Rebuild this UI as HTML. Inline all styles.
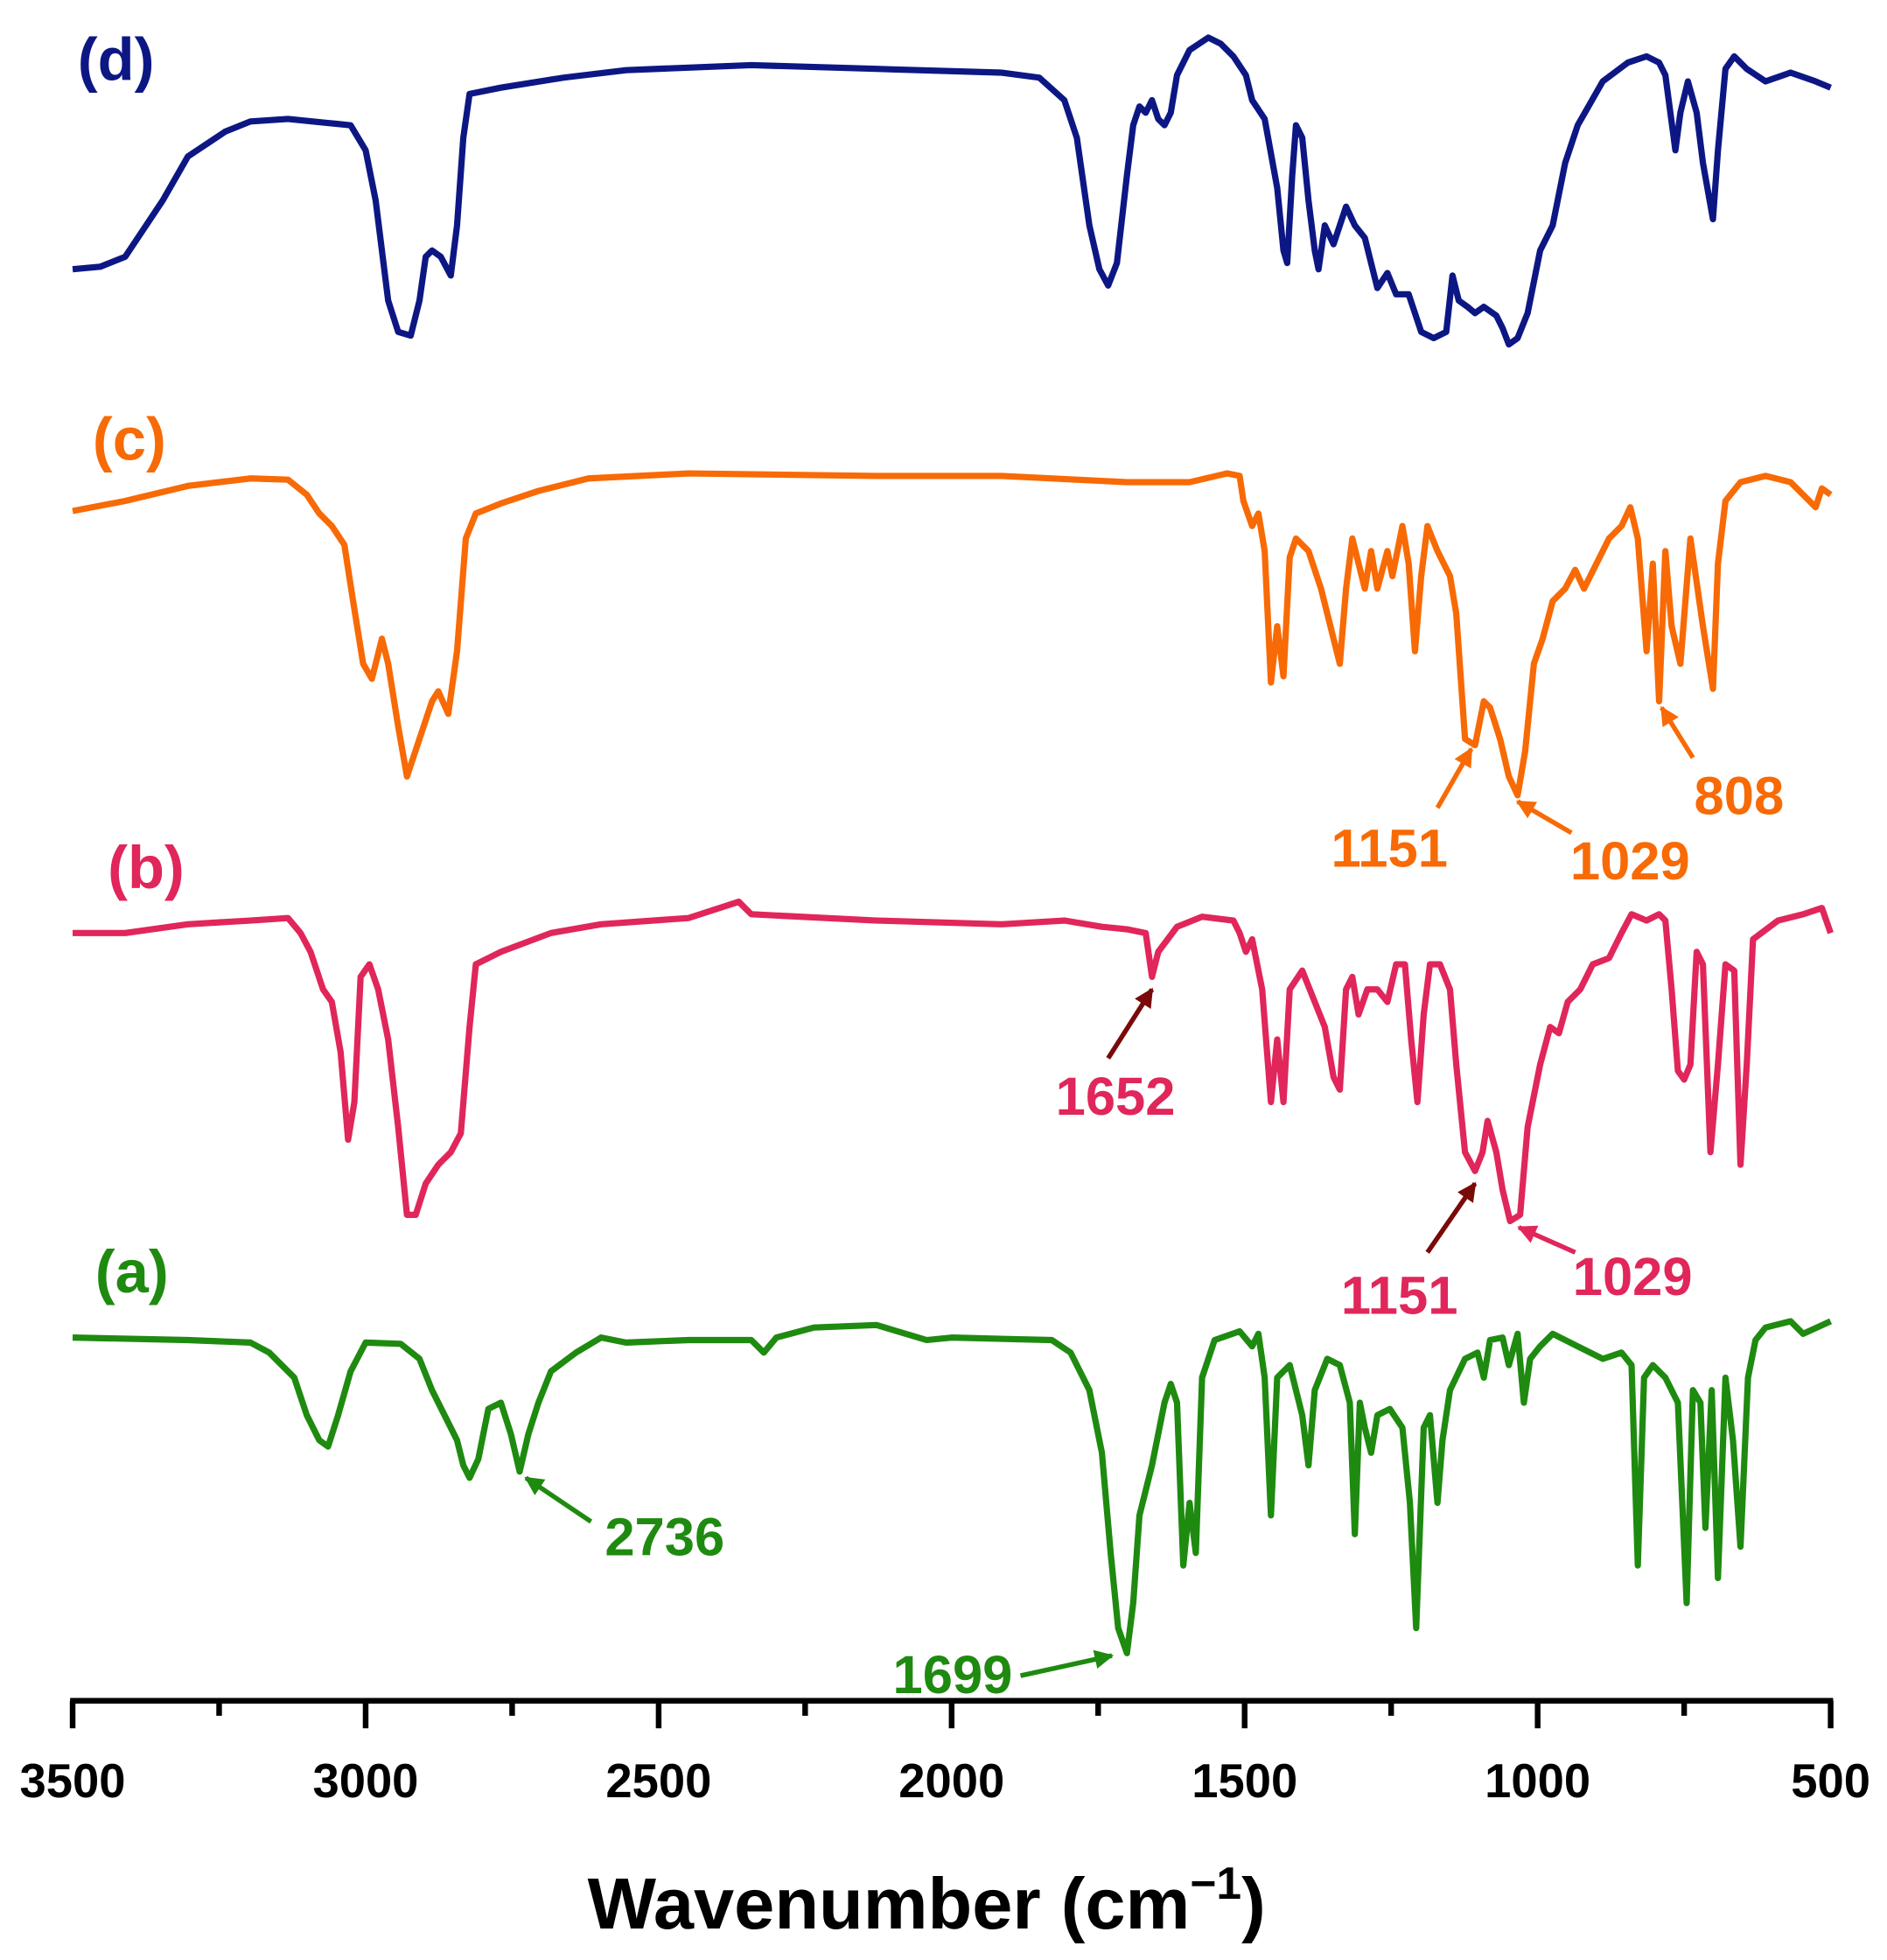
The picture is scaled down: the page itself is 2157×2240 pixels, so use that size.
<!DOCTYPE html>
<html><head><meta charset="utf-8"><style>html,body{margin:0;padding:0;background:#fff}svg{display:block}</style></head>
<body>
<svg width="2157" height="2240" viewBox="0 0 1507 1565" xmlns="http://www.w3.org/2000/svg" font-family="Liberation Sans, sans-serif" font-weight="bold">
<g fill="none" stroke-width="5" stroke-linejoin="round">
<polyline stroke="#0d1784" points="58,215 80,213 100,205 110,190 130,160 150,125 180,105 200,97 230,95 260,98 280,100 292,120 300,160 310,240 318,265 328,268 335,240 340,205 345,200 352,205 360,220 365,180 370,110 375,75 400,70 450,62 500,56 600,52 700,55 800,58 830,62 850,80 860,110 870,180 878,215 885,228 892,210 900,140 905,100 910,85 915,90 920,80 925,95 930,100 935,90 940,60 950,40 965,30 975,35 985,45 995,60 1000,80 1010,95 1020,150 1025,200 1028,210 1032,140 1035,100 1040,110 1045,160 1050,200 1053,215 1058,180 1065,195 1070,180 1075,165 1082,180 1090,190 1095,210 1100,230 1108,218 1115,235 1125,235 1135,265 1145,270 1155,265 1160,220 1165,240 1172,245 1178,250 1185,245 1195,252 1200,262 1205,275 1212,270 1220,250 1230,200 1240,180 1250,130 1260,100 1280,65 1300,50 1315,45 1325,50 1330,60 1338,120 1342,90 1348,65 1355,90 1360,130 1368,175 1372,120 1378,55 1385,45 1395,55 1410,65 1430,58 1450,65 1462,70"/>
<polyline stroke="#f86a05" points="58,408 100,400 150,388 200,382 230,383 245,395 255,410 265,420 275,435 282,480 290,530 297,542 305,510 310,530 318,580 325,620 335,590 345,560 350,552 358,570 365,520 372,430 380,410 400,402 430,392 470,382 550,378 700,380 800,380 900,385 950,385 980,378 990,380 993,400 1000,420 1005,410 1010,440 1015,545 1020,500 1025,540 1030,445 1035,430 1045,440 1055,470 1065,510 1070,530 1075,470 1080,430 1085,450 1090,470 1095,440 1100,470 1108,440 1112,460 1120,420 1125,450 1130,520 1135,460 1140,420 1148,440 1158,460 1163,490 1170,590 1178,595 1185,560 1190,565 1198,590 1205,620 1212,635 1218,600 1225,530 1232,510 1240,480 1250,470 1258,455 1265,470 1275,450 1285,430 1295,420 1302,405 1308,430 1315,520 1320,450 1325,560 1330,440 1335,500 1342,530 1350,430 1360,500 1368,550 1372,450 1378,400 1390,385 1410,380 1430,385 1445,400 1450,405 1455,390 1462,395"/>
<polyline stroke="#e0265a" points="58,745 100,745 150,738 200,735 230,733 240,745 248,760 258,790 265,800 272,840 278,910 283,880 288,780 295,770 302,790 310,830 318,900 325,970 332,970 340,945 350,930 360,920 368,905 375,820 380,770 400,760 440,745 480,738 550,733 590,720 600,730 700,735 800,738 850,735 880,740 900,742 915,745 920,780 925,760 940,740 960,732 985,735 990,745 995,760 1000,750 1008,790 1015,880 1020,830 1025,880 1030,790 1040,775 1050,800 1058,820 1065,860 1070,870 1075,790 1080,780 1085,810 1092,790 1100,790 1108,800 1115,770 1122,770 1127,830 1132,880 1137,810 1142,770 1150,770 1158,790 1163,850 1170,920 1178,935 1184,920 1188,895 1195,920 1200,950 1206,975 1214,970 1220,900 1230,850 1238,820 1245,825 1252,800 1262,790 1272,770 1285,765 1295,745 1303,730 1315,735 1325,730 1330,735 1335,790 1340,855 1345,862 1350,850 1355,760 1360,770 1366,920 1372,850 1378,770 1385,775 1390,930 1395,850 1400,750 1420,735 1440,730 1455,725 1462,745"/>
<polyline stroke="#1f8a10" points="58,1068 150,1070 200,1072 215,1080 235,1100 245,1130 255,1150 262,1155 270,1130 280,1095 292,1072 320,1073 335,1085 345,1110 355,1130 365,1150 370,1170 375,1180 382,1165 390,1125 400,1120 408,1145 415,1175 422,1145 430,1120 440,1095 460,1080 480,1068 500,1072 550,1070 600,1070 610,1080 620,1068 650,1060 700,1058 740,1070 760,1068 840,1070 855,1080 870,1110 880,1160 887,1240 893,1300 900,1320 905,1280 910,1210 920,1170 930,1120 935,1105 940,1120 945,1250 950,1200 955,1240 960,1100 970,1070 990,1063 1000,1075 1005,1065 1010,1100 1015,1210 1020,1100 1030,1090 1040,1130 1045,1170 1050,1110 1060,1085 1070,1090 1078,1120 1082,1225 1086,1120 1090,1140 1095,1160 1100,1130 1110,1125 1120,1140 1126,1200 1131,1300 1137,1140 1142,1130 1148,1200 1152,1150 1158,1110 1170,1085 1180,1080 1185,1100 1190,1070 1200,1068 1205,1090 1212,1065 1217,1120 1222,1085 1230,1075 1240,1065 1260,1075 1280,1085 1295,1080 1303,1090 1308,1250 1313,1100 1320,1090 1330,1100 1340,1120 1347,1280 1352,1110 1358,1120 1362,1220 1367,1110 1372,1260 1378,1100 1384,1150 1390,1235 1396,1100 1402,1070 1410,1060 1430,1055 1440,1065 1462,1055"/>
</g>
<defs>
<marker id="ao" viewBox="0 0 10 10" refX="9" refY="5" markerWidth="4" markerHeight="4" orient="auto"><path d="M0,0 L10,5 L0,10 z" fill="#f86a05"/></marker>
<marker id="ar" viewBox="0 0 10 10" refX="9" refY="5" markerWidth="4" markerHeight="4" orient="auto"><path d="M0,0 L10,5 L0,10 z" fill="#7a0a0a"/></marker>
<marker id="ap" viewBox="0 0 10 10" refX="9" refY="5" markerWidth="4" markerHeight="4" orient="auto"><path d="M0,0 L10,5 L0,10 z" fill="#e0265a"/></marker>
<marker id="ag" viewBox="0 0 10 10" refX="9" refY="5" markerWidth="4" markerHeight="4" orient="auto"><path d="M0,0 L10,5 L0,10 z" fill="#1f8a10"/></marker>
</defs>
<g stroke-width="3.8">
<line x1="1148" y1="645" x2="1175" y2="598" stroke="#f86a05" marker-end="url(#ao)"/>
<line x1="1255" y1="665" x2="1212" y2="640" stroke="#f86a05" marker-end="url(#ao)"/>
<line x1="1352" y1="605" x2="1327" y2="565" stroke="#f86a05" marker-end="url(#ao)"/>
<line x1="885" y1="845" x2="920" y2="790" stroke="#7a0a0a" marker-end="url(#ar)"/>
<line x1="1140" y1="1000" x2="1178" y2="945" stroke="#7a0a0a" marker-end="url(#ar)"/>
<line x1="1258" y1="1000" x2="1213" y2="980" stroke="#e0265a" marker-end="url(#ap)"/>
<line x1="472" y1="1215" x2="420" y2="1180" stroke="#1f8a10" marker-end="url(#ag)"/>
<line x1="815" y1="1338" x2="888" y2="1322" stroke="#1f8a10" marker-end="url(#ag)"/>
</g>
<g font-size="48">
<text x="62" y="64" fill="#0d1784">(d)</text>
<text x="74" y="367" fill="#f86a05">(c)</text>
<text x="86" y="709" fill="#e0265a">(b)</text>
<text x="76" y="1032" fill="#1f8a10">(a)</text>
</g>
<g font-size="43">
<text x="1063" y="692" fill="#f86a05">1151</text>
<text x="1254" y="702" fill="#f86a05">1029</text>
<text x="1353" y="650" fill="#f86a05">808</text>
<text x="843" y="890" fill="#e0265a">1652</text>
<text x="1071" y="1049" fill="#e0265a">1151</text>
<text x="1256" y="1034" fill="#e0265a">1029</text>
<text x="483" y="1242" fill="#1f8a10">2736</text>
<text x="713" y="1352" fill="#1f8a10">1699</text>
</g>
<g stroke="#000" stroke-width="4.5">
<line x1="56" y1="1358" x2="1464" y2="1358"/>
<line x1="58" y1="1358" x2="58" y2="1380"/><line x1="292" y1="1358" x2="292" y2="1380"/><line x1="526" y1="1358" x2="526" y2="1380"/><line x1="760" y1="1358" x2="760" y2="1380"/><line x1="994" y1="1358" x2="994" y2="1380"/><line x1="1228" y1="1358" x2="1228" y2="1380"/><line x1="1462" y1="1358" x2="1462" y2="1380"/>
<line x1="175" y1="1358" x2="175" y2="1370"/><line x1="409" y1="1358" x2="409" y2="1370"/><line x1="643" y1="1358" x2="643" y2="1370"/><line x1="877" y1="1358" x2="877" y2="1370"/><line x1="1111" y1="1358" x2="1111" y2="1370"/><line x1="1345" y1="1358" x2="1345" y2="1370"/>
</g>
<g font-size="38" text-anchor="middle" fill="#000">
<text x="58" y="1435">3500</text><text x="292" y="1435">3000</text><text x="526" y="1435">2500</text><text x="760" y="1435">2000</text><text x="994" y="1435">1500</text><text x="1228" y="1435">1000</text><text x="1462" y="1435">500</text>
</g>
<text x="740" y="1540" font-size="58" text-anchor="middle" fill="#000">Wavenumber (cm<tspan font-size="36" dy="-24">−1</tspan><tspan dy="24">)</tspan></text>
</svg>
</body></html>
